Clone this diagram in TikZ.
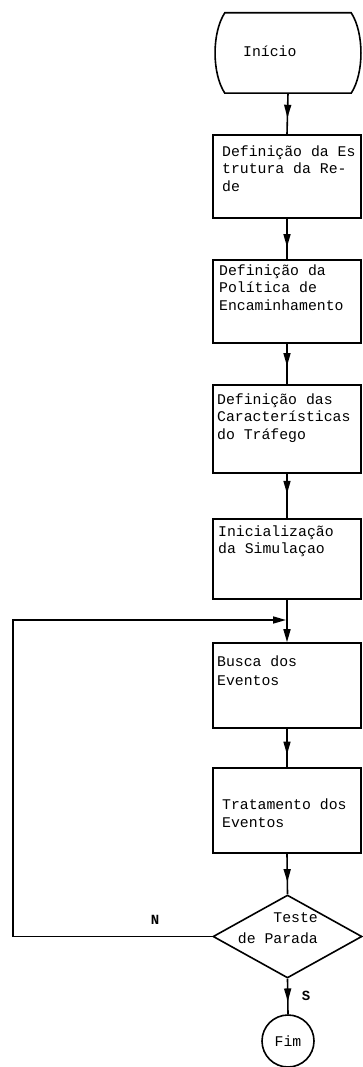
\documentclass[tikz,border=0pt]{standalone}
\usepackage{fontspec}
\newfontfamily\tw{Liberation Mono}
\usetikzlibrary{arrows.meta,shapes.geometric,decorations.markings}
\begin{document}
\begin{tikzpicture}[x=1pt,y=-1pt,
  line/.style={line width=1.6pt},
  flow/.style={line width=1.6pt, postaction={decorate, decoration={markings,
      mark=at position #1 with {\arrow{Triangle[length=13pt,width=7pt]}}}}},
  flow/.default=0.65,
  box/.style={draw, line width=1.6pt, rectangle, minimum width=148pt, inner sep=0pt},
  term/.style={rectangle, minimum width=126pt, minimum height=80pt, inner sep=0pt},
  txt/.style={font=\tw\fontsize{14.8}{17.5}\selectfont, align=left, inner sep=0pt,
      anchor=north west, execute at begin node=\strut},
  lab/.style={font=\tw\bfseries\fontsize{14}{16}\selectfont, inner sep=0pt}]
\useasboundingbox (0,0) rectangle (363,1067);

% terminal "Início": straight top and bottom, bulging sides
\node[term] (ini) at (288,53) {};
\draw[line] (ini.north west) -- (ini.north east)
  .. controls +(13,20) and +(13,-20) .. (ini.south east)
  -- (ini.south west)
  .. controls +(-13,-20) and +(-13,20) .. (ini.north west) -- cycle;
\node[txt] at (243,44.25) {Início};

% process boxes
\node[box, minimum height=83pt] (b1) at (287,176.5) {};
\node[box, minimum height=83pt] (b2) at (287,301.5) {};
\node[box, minimum height=88pt] (b3) at (287,429) {};
\node[box, minimum height=80pt] (b4) at (287,559) {};
\node[box, minimum height=85pt] (b5) at (287,685.5) {};
\node[box, minimum height=85pt] (b6) at (287,810.5) {};

\node[txt] at (222,145.25) {Definição da Es\\trutura da Re-\\de};
\node[txt] at (219,264.25) {Definição da\\Política de\\Encaminhamento};
\node[txt] at (217,393.25) {Definição das\\Características\\do Tráfego};
\node[txt] at (218,525.25) {Inicialização\\da Simulaçao};
\node[txt, font=\tw\fontsize{14.8}{19}\selectfont] at (217,655.25) {Busca dos\\Eventos};
\node[txt, font=\tw\fontsize{14.8}{18}\selectfont] at (222,798.25) {Tratamento dos\\Eventos};

% decision
\node[draw, line width=1.6pt, diamond, minimum width=149pt, minimum height=83pt,
      inner sep=0pt] (dia) at (287.5,936.5) {};
\node[txt, anchor=north east, align=right, font=\tw\fontsize{14.8}{21}\selectfont]
  at (318,912.25) {Teste\\de Parada};

% end
\node[draw, line width=1.6pt, circle, minimum size=52pt, inner sep=0pt,
      font=\tw\fontsize{14.8}{17}\selectfont] (fim) at (288,1041) {Fim};

% branch labels
\node[lab] at (155,920) {N};
\node[lab] at (306,996) {S};

% connectors
\draw[flow=0.6]  (ini.south) -- (b1.north);
\draw[flow=0.7]  (b1.south) -- (b2.north);
\draw[flow=0.55] (b2.south) -- (b3.north);
\draw[flow=0.45] (b3.south) -- (b4.north);
\draw[line, -{Triangle[length=13pt,width=7pt]}] (b4.south) -- (b5.north);
\draw[flow=0.67] (b5.south) -- (b6.north);
\draw[flow=0.7]  (b6.south) -- (dia.north);
\draw[flow=0.64] (dia.south) -- (fim.north);

% return loop from the decision back above "Busca dos Eventos"
\coordinate (lc) at (13,620);
\coordinate (jn) at (b4.south |- lc);
\draw[line, -{Triangle[length=13pt,width=7pt]}, shorten >=1pt]
  (dia.west) -| (lc) -- (jn);
\end{tikzpicture}
\end{document}
